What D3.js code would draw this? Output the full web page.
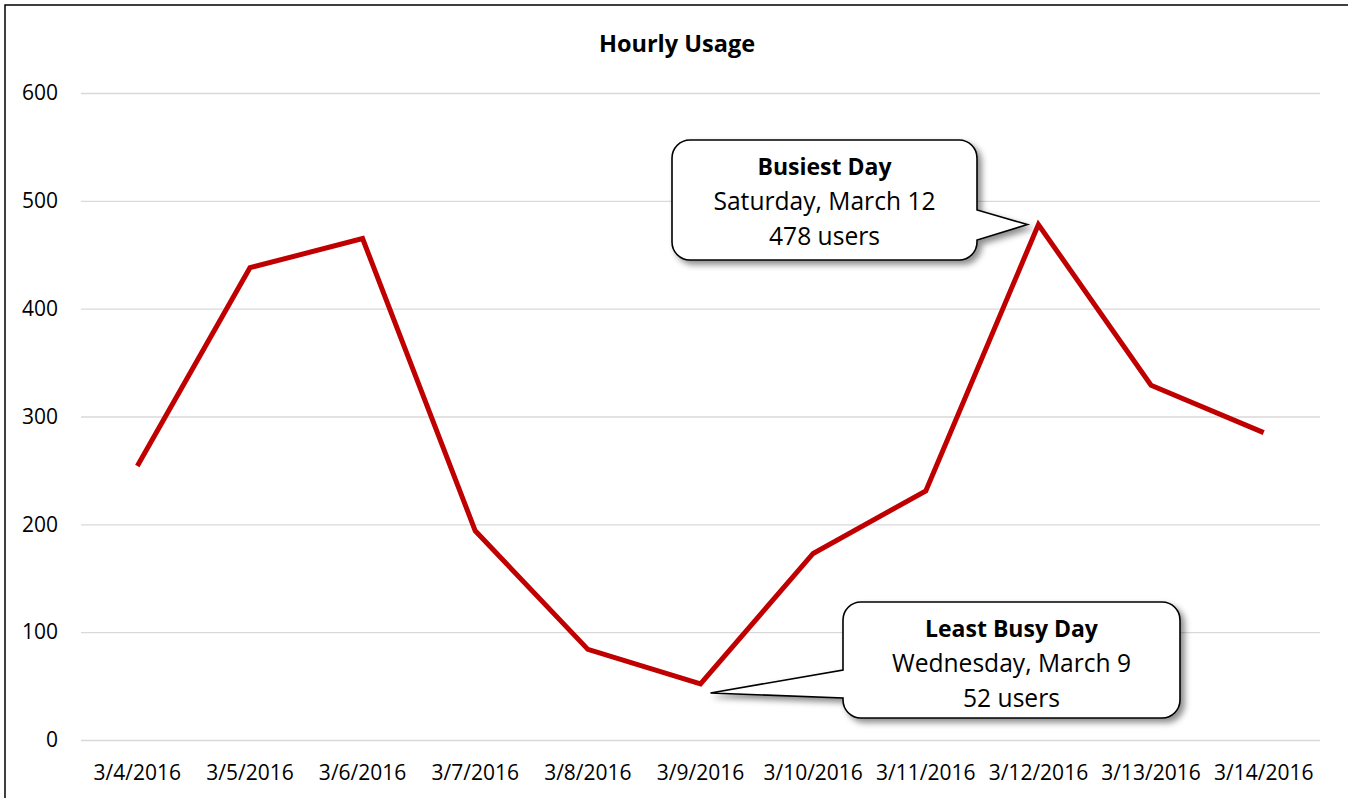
<!DOCTYPE html>
<html>
<head>
<meta charset="utf-8">
<script src="https://cdn.jsdelivr.net/npm/d3@7"></script>
<style>
  html, body { margin: 0; padding: 0; background: #fff; }
  svg { display: block; font-family: "Open Sans", "Noto Sans", sans-serif; }
</style>
</head>
<body>
<svg id="chart" width="1348" height="798"></svg>
<script>
// Daily user counts
const dates = ["3/4/2016","3/5/2016","3/6/2016","3/7/2016","3/8/2016","3/9/2016",
               "3/10/2016","3/11/2016","3/12/2016","3/13/2016","3/14/2016"];
const users = [254, 438, 465, 194, 84, 52, 173, 231, 478, 329, 285];
const yTicks = [0, 100, 200, 300, 400, 500, 600];

// Callout notes
const busiest = { date: "3/12/2016", title: "Busiest Day", lines: ["Saturday, March 12", "478 users"] };
const leastBusy = { date: "3/9/2016", title: "Least Busy Day", lines: ["Wednesday, March 9", "52 users"] };

const FONT = '"Open Sans", "Noto Sans", sans-serif';
const svg = d3.select("#chart");
const plot = { left: 81, right: 1320, top: 93, bottom: 740 };

// outer chart frame (extends past the canvas on the right and bottom)
svg.append("rect")
  .attr("x", 5).attr("y", 5).attr("width", 1400).attr("height", 900)
  .attr("fill", "#fff").attr("stroke", "#000").attr("stroke-width", 1.5);

const x = d3.scaleBand().domain(dates).range([plot.left, plot.right]);
const y = d3.scaleLinear().domain([0, 600]).range([plot.bottom, plot.top]);

// shadow filter for callouts
const defs = svg.append("defs");
const f = defs.append("filter").attr("id", "shadow")
  .attr("x", "-10%").attr("y", "-10%").attr("width", "130%").attr("height", "140%");
f.append("feDropShadow").attr("dx", 4).attr("dy", 4).attr("stdDeviation", 3)
  .attr("flood-color", "#000").attr("flood-opacity", 0.45);

// gridlines and y labels
const yAxis = d3.axisLeft(y).tickValues(yTicks).tickSize(-(plot.right - plot.left)).tickPadding(23);
const gy = svg.append("g").attr("transform", `translate(${plot.left},0)`).call(yAxis);
gy.attr("font-family", FONT).attr("font-size", 21);
gy.select(".domain").remove();
gy.selectAll(".tick line").attr("stroke", "#d9d9d9").attr("stroke-width", 1.3);
gy.selectAll(".tick text").attr("fill", "#000");

// x axis labels
const xAxis = d3.axisBottom(x).tickSize(0).tickPadding(25);
const gx = svg.append("g").attr("transform", `translate(0,${plot.bottom})`).call(xAxis);
gx.attr("font-family", FONT).attr("font-size", 21);
gx.select(".domain").remove();
gx.selectAll(".tick text").attr("fill", "#000");

// title
svg.append("text").attr("x", 677).attr("y", 52).attr("text-anchor", "middle")
  .attr("font-size", 23.5).attr("font-weight", "bold").attr("fill", "#000").text("Hourly Usage");

// line
const line = d3.line().x((d, i) => x(dates[i]) + x.bandwidth() / 2).y(d => y(d));
svg.append("path").datum(users)
  .attr("d", line).attr("fill", "none").attr("stroke", "#c00000")
  .attr("stroke-width", 5).attr("stroke-linejoin", "miter");

// callout: rounded box with a pointer toward a data point
function callout(note, box, side, baseY, tipOffset) {
  const i = dates.indexOf(note.date);
  const px = x(note.date) + x.bandwidth() / 2 + tipOffset[0];
  const py = y(users[i]) + tipOffset[1];
  const r = 18;
  const { x0, y0, x1, y1 } = box;
  let p = d3.path();
  p.moveTo(x0 + r, y0);
  p.lineTo(x1 - r, y0);
  p.arcTo(x1, y0, x1, y0 + r, r);
  if (side === "right") {
    p.lineTo(x1, baseY[0]);
    p.lineTo(px, py);
    p.lineTo(x1, baseY[1]);
  }
  p.lineTo(x1, y1 - r);
  p.arcTo(x1, y1, x1 - r, y1, r);
  p.lineTo(x0 + r, y1);
  p.arcTo(x0, y1, x0, y1 - r, r);
  if (side === "left") {
    p.lineTo(x0, baseY[1]);
    p.lineTo(px, py);
    p.lineTo(x0, baseY[0]);
  }
  p.lineTo(x0, y0 + r);
  p.arcTo(x0, y0, x0 + r, y0, r);
  p.closePath();
  svg.append("path").attr("d", p.toString())
    .attr("fill", "#fff").attr("stroke", "#000").attr("stroke-width", 1.6)
    .attr("filter", "url(#shadow)");
  const cx = (x0 + x1) / 2;
  const t = svg.append("text").attr("text-anchor", "middle").attr("font-size", 24.6).attr("fill", "#000");
  t.append("tspan").attr("x", cx).attr("y", y0 + 35).attr("font-weight", "bold")
    .attr("font-size", 23).text(note.title);
  note.lines.forEach((l, k) => {
    t.append("tspan").attr("x", cx).attr("y", y0 + 35 + 35 * (k + 1)).text(l);
  });
}

callout(busiest, { x0: 672, y0: 140, x1: 977, y1: 260 }, "right", [210, 240], [-11, 0]);
callout(leastBusy, { x0: 843, y0: 602, x1: 1180, y1: 718 }, "left", [670, 698], [10, 9]);
</script>
</body>
</html>
